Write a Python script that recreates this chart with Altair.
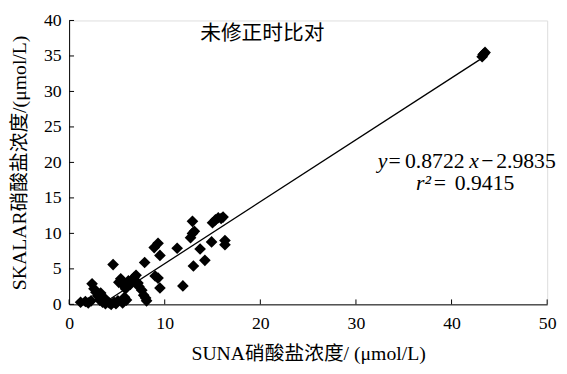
import altair as alt
import pandas as pd

# ---- data ----
suna = [1.2, 1.7, 2.0, 2.3, 2.4, 2.6, 2.8, 3.0, 3.2, 3.3, 3.5, 3.6, 3.8, 4.0, 4.2, 4.4,
        4.6, 4.7, 4.9, 5.1, 5.2, 5.4, 5.5, 5.6, 5.8, 5.9, 6.0, 6.2, 6.4, 6.6, 6.8, 7.0,
        7.2, 7.3, 7.6, 7.8, 7.9, 8.1, 8.0,
        8.9, 9.3, 9.5, 9.0, 9.3, 9.5, 11.3, 11.9, 12.7, 12.9, 12.9, 13.1, 13.0, 13.7,
        14.2, 14.9, 15.0, 15.3, 15.6, 15.9, 16.1, 16.3, 16.3,
        43.2, 43.4, 43.5, 43.3]
skalar = [0.3, 0.4, 0.2, 0.5, 2.9, 2.2, 1.7, 1.2, 0.6, 1.6, 0.3, 1.0, 0.1, 0.4, 0.2, 0.0,
          5.6, 0.3, 0.1, 0.5, 3.1, 3.6, 2.9, 0.2, 1.0, 2.2, 0.6, 3.3, 2.8, 3.5, 3.8, 4.1,
          3.0, 2.5, 2.0, 1.3, 5.9, 0.5, 0.9,
          8.0, 8.6, 6.9, 4.0, 3.7, 2.3, 7.9, 2.6, 9.4, 10.0, 11.7, 10.3, 5.4, 7.8,
          6.2, 8.8, 11.5, 11.9, 12.2, 12.1, 12.3, 9.0, 8.4,
          34.9, 35.3, 35.5, 35.2]

slope = 0.8722
intercept = -2.9835
fit_x = [4.0, 43.4]

x_ticks = [0, 10, 20, 30, 40, 50]
y_ticks = [0, 5, 10, 15, 20, 25, 30, 35, 40]

panel_title = "未修正时比对"
x_title = "SUNA硝酸盐浓度/ (μmol/L)"
y_title = "SKALAR硝酸盐浓度/(μmol/L)"

FONT = "'Liberation Serif', 'Times New Roman', 'Noto Sans CJK SC', serif"
W, H = 485, 288

pts = pd.DataFrame({"x": suna, "y": skalar})
fit = pd.DataFrame({"x": fit_x, "y": [slope * v + intercept for v in fit_x]})
xt = pd.DataFrame({"x": x_ticks})
yt = pd.DataFrame({"y": y_ticks})

xscale = alt.Scale(domain=[0, 50], nice=False, zero=False)
yscale = alt.Scale(domain=[0, 40], nice=False, zero=False)

x_axis = alt.Axis(values=x_ticks, title=x_title, grid=False, ticks=False, tickSize=0,
                  labelFont=FONT, labelFontSize=18, labelColor="black", labelPadding=10,
                  titleFont=FONT, titleFontSize=20, titleFontWeight="normal", titleColor="black",
                  titleY=50, titleBaseline="middle",
                  domainColor="black", domainWidth=1, domainOpacity=1, labelFlush=False)
y_axis = alt.Axis(values=y_ticks, title=y_title, grid=False, ticks=False, tickSize=0,
                  labelFont=FONT, labelFontSize=18, labelColor="black", labelPadding=8,
                  titleFont=FONT, titleFontSize=20, titleFontWeight="normal", titleColor="black",
                  titleX=-50, titleBaseline="middle",
                  domainColor="black", domainWidth=1, domainOpacity=1, labelFlush=False)

X = alt.X("x:Q", scale=xscale, axis=x_axis)
Y = alt.Y("y:Q", scale=yscale, axis=y_axis)

points = alt.Chart(pts).mark_point(shape="diamond", filled=True, color="black",
                                   size=140, opacity=1).encode(x=X, y=Y)

line = alt.Chart(fit).mark_line(color="black", strokeWidth=1.3).encode(x=X, y=Y)

xticks = alt.Chart(xt).mark_rule(color="black", strokeWidth=1).encode(
    x=X, y=alt.value(H), y2=alt.value(H - 5),
)
yticks = alt.Chart(yt).mark_rule(color="black", strokeWidth=1).encode(
    y=Y, x=alt.value(0), x2=alt.value(5),
)

one = pd.DataFrame({"k": [0]})

def label(txt, px, py, size=22, style="normal", align="left", baseline="alphabetic"):
    return alt.Chart(one).mark_text(font=FONT, fontSize=size, fontStyle=style, color="black",
                                    align=align, baseline=baseline).encode(
        x=alt.value(px), y=alt.value(py), text=alt.value(txt))

annots = [
    label(panel_title, 196, 14, size=21, align="center", baseline="middle"),
    label("y", 313, 150, style="italic"),
    label("=", 324, 150),
    label("0.8722", 371, 150, align="center"),
    label("x", 406, 150, style="italic"),
    label("\u2212", 418, 150),
    label("2.9835", 463.5, 150, align="center"),
    label("r\u00b2", 352, 172, style="italic"),
    label("=", 370, 172),
    label("0.9415", 421.5, 172, align="center"),
]

chart = alt.layer(points, line, xticks, yticks, *annots).properties(
    width=W, height=H,
    padding={"left": 62, "top": 10, "right": 12, "bottom": 68},
    autosize=alt.AutoSizeParams(type="none"),
).configure_view(stroke=None).configure(background="white")

chart.save("out.html", embed_options={"renderer": "svg", "actions": False})
